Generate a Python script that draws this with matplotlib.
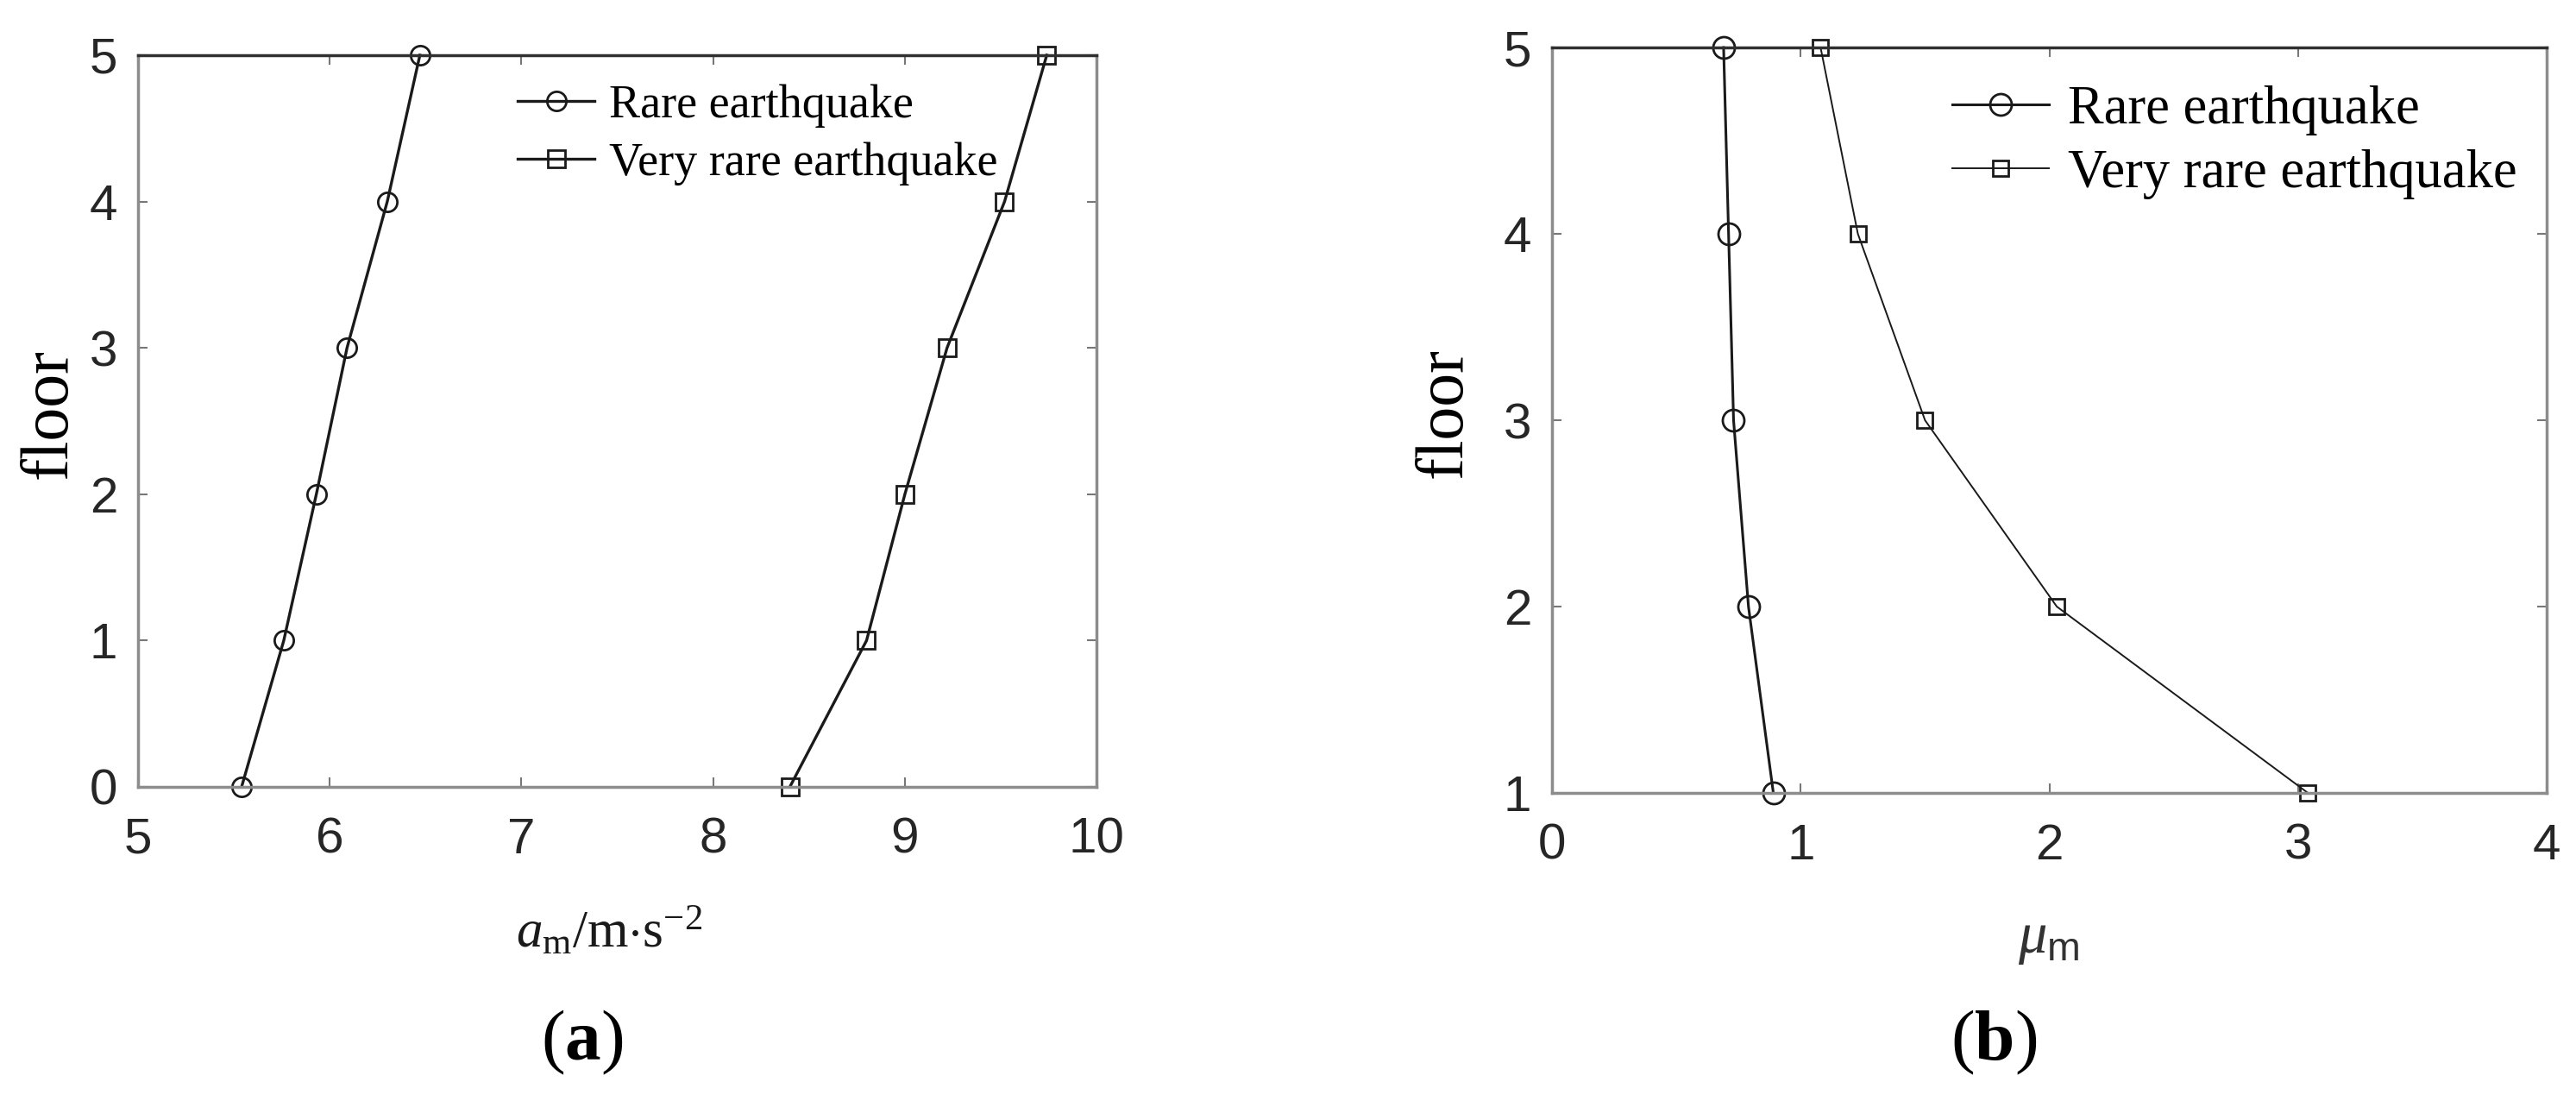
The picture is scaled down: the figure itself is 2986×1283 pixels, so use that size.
import matplotlib
matplotlib.use("Agg")
import matplotlib.pyplot as plt

plt.rcParams['mathtext.fontset'] = 'custom'
plt.rcParams['mathtext.rm'] = 'Liberation Serif'
plt.rcParams['mathtext.it'] = 'Liberation Serif:italic'
plt.rcParams['mathtext.bf'] = 'Liberation Serif:bold'
plt.rcParams['mathtext.sf'] = 'Liberation Sans'

# panel (a): peak acceleration per floor
a_floors = [0, 1, 2, 3, 4, 5]
a_rare = [5.54, 5.76, 5.93, 6.09, 6.30, 6.47]
a_very_rare = [8.40, 8.80, 9.00, 9.22, 9.52, 9.74]

# panel (b): ductility per floor
b_floors = [1, 2, 3, 4, 5]
b_rare = [0.89, 0.79, 0.73, 0.71, 0.69]
b_very_rare = [3.04, 2.03, 1.50, 1.23, 1.08]

labels = ["Rare earthquake", "Very rare earthquake"]


def style_axes(ax, tick_size):
    ax.tick_params(direction='in', top=True, right=True, length=8, width=1.5,
                   color='#777777', labelsize=tick_size, labelcolor='#262626')
    ax.tick_params(axis='x', pad=25)
    ax.tick_params(axis='y', pad=17)
    for name in ['left', 'bottom', 'right']:
        ax.spines[name].set_color('#8c8c8c')
        ax.spines[name].set_linewidth(2.5)
    ax.spines['top'].set_color('#303030')
    ax.spines['top'].set_linewidth(2.5)
    for lab in ax.get_xticklabels() + ax.get_yticklabels():
        lab.set_fontfamily('Liberation Sans')


fig = plt.figure(figsize=(29.86, 12.83), dpi=100)

ax = fig.add_axes([0.0536, 0.2892, 0.3721, 0.661])
ax.plot(a_rare, a_floors, color='#1a1a1a', lw=2.4, marker='o', ms=16,
        mfc='none', mec='#1a1a1a', mew=2, clip_on=False, label=labels[0])
ax.plot(a_very_rare, a_floors, color='#1a1a1a', lw=2.4, marker='s', ms=14,
        mfc='none', mec='#1a1a1a', mew=2, clip_on=False, label=labels[1])
ax.set_xlim(5, 10)
ax.set_ylim(0, 5)
ax.set_xticks([5, 6, 7, 8, 9, 10])
ax.set_yticks([0, 1, 2, 3, 4, 5])
style_axes(ax, 42)
ax.set_xlabel(r'$a_{\mathrm{m}}$/m$\cdot$s$^{-2}$', fontsize=44,
              fontfamily='Liberation Serif', va='center', color='#1a1a1a')
ax.xaxis.set_label_coords(0.491, -0.2)
ax.set_ylabel('floor', fontsize=56, fontfamily='Liberation Serif', va='center')
ax.yaxis.set_label_coords(-0.092, 0.51)
ax.legend(loc='upper left', bbox_to_anchor=(0.396, 0.96), frameon=False,
          prop={'family': 'Liberation Serif', 'size': 39}, borderpad=0,
          borderaxespad=0, handlelength=1.65, handletextpad=0.3,
          labelspacing=0.3)

ax = fig.add_axes([0.6025, 0.2837, 0.3861, 0.6734])
ax.plot(b_rare, b_floors, color='#1a1a1a', lw=2.2, marker='o', ms=18,
        mfc='none', mec='#1a1a1a', mew=2, clip_on=False, label=labels[0])
ax.plot(b_very_rare, b_floors, color='#1a1a1a', lw=1.4, marker='s', ms=13,
        mfc='none', mec='#1a1a1a', mew=2, clip_on=False, label=labels[1])
ax.set_xlim(0, 4)
ax.set_ylim(1, 5)
ax.set_xticks([0, 1, 2, 3, 4])
ax.set_yticks([1, 2, 3, 4, 5])
style_axes(ax, 42)
ax.set_xlabel(r'$\mu_{\mathsf{m}}$', fontsize=48, va='center', color='#333333')
ax.xaxis.set_label_coords(0.499, -0.194)
ax.set_ylabel('floor', fontsize=56, fontfamily='Liberation Serif', va='center')
ax.yaxis.set_label_coords(-0.1075, 0.51)
ax.legend(loc='upper left', bbox_to_anchor=(0.4024, 0.949), frameon=False,
          prop={'family': 'Liberation Serif', 'size': 45}, borderpad=0,
          borderaxespad=0, handlelength=1.8, handletextpad=0.34,
          labelspacing=0.26)

fig.text(0.226, 0.0585, r'$(\mathbf{a})$', fontsize=60, ha='center', va='center')
fig.text(0.774, 0.0585, r'$(\mathbf{b})$', fontsize=60, ha='center', va='center')

fig.savefig("out.png", dpi=100)
